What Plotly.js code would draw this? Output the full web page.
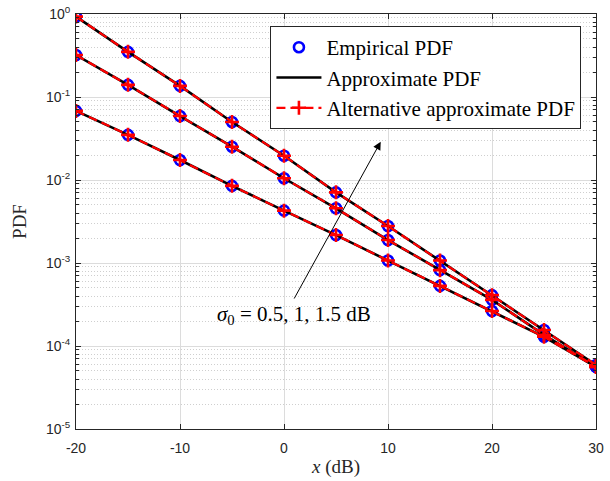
<!DOCTYPE html>
<html>
<head>
<meta charset="utf-8">
<script src="https://cdn.plot.ly/plotly-3.0.1.min.js"></script>
<style>html,body{margin:0;padding:0;background:#fff;}#chart{width:610px;height:481px;}</style>
</head>
<body>
<div id="chart"></div>
<script>
// x values (dB)
const xVals = [-20, -15, -10, -5, 0, 5, 10, 15, 20, 25, 30];
// three curves (sigma_0 = 1.5, 1, 0.5 dB)
const pdfTop    = [0.93, 0.35, 0.136, 0.050, 0.0196, 0.0071, 0.00279, 0.00107, 4.1e-4, 1.56e-4, 5.9e-5];
const pdfMid    = [0.32, 0.14, 0.059, 0.0252, 0.0105, 0.00456, 0.00189, 8.2e-4, 3.6e-4, 1.36e-4, 5.6e-5];
const pdfBottom = [0.068, 0.035, 0.0174, 0.0085, 0.00427, 0.00217, 0.00107, 5.3e-4, 2.64e-4, 1.29e-4, 5.6e-5];
const seriesList = [pdfTop, pdfMid, pdfBottom];
const legendNames = ["Empirical PDF", "Approximate PDF", "Alternative approximate PDF"];
const xTicks = [-20, -10, 0, 10, 20, 30];
const yTickExps = [-5, -4, -3, -2, -1, 0];

const traces = [];
seriesList.forEach((ys, i) => {
  traces.push({
    x: xVals, y: ys, type: 'scatter', mode: 'markers',
    name: legendNames[0], showlegend: i === 0, legendrank: 1,
    marker: {symbol: 'circle-open', size: 10, color: '#0000ff', line: {width: 2.6, color: '#0000ff'}}
  });
});
seriesList.forEach((ys, i) => {
  traces.push({
    x: xVals, y: ys, type: 'scatter', mode: 'lines',
    name: legendNames[1], showlegend: i === 0, legendrank: 2,
    line: {color: '#000000', width: 2.6}
  });
});
seriesList.forEach((ys, i) => {
  traces.push({
    x: xVals, y: ys, type: 'scatter', mode: 'lines+markers',
    name: legendNames[2], showlegend: i === 0, legendrank: 3,
    line: {color: '#ff0000', width: 2.2, dash: '9px,5px'},
    marker: {symbol: 'cross-thin', size: 10, color: '#ff0000', line: {width: 2.6, color: '#ff0000'}}
  });
});

const axisFont = {family: 'Liberation Sans, Arial, sans-serif', size: 14, color: '#262626'};
const serif = 'Liberation Serif, Times New Roman, serif';

const layout = {
  width: 610, height: 481,
  margin: {l: 76, r: 14, t: 14, b: 52},
  paper_bgcolor: '#fff', plot_bgcolor: '#fff',
  showlegend: true,
  legend: {
    x: 0.972, y: 0.971, xanchor: 'right', yanchor: 'top',
    bgcolor: '#fff', bordercolor: '#262626', borderwidth: 1,
    font: {family: serif, size: 21, color: '#000'},
    itemwidth: 45, tracegroupgap: 0
  },
  xaxis: {
    range: [-20, 30], tickvals: xTicks, ticktext: xTicks.map(String),
    ticks: 'inside', ticklen: 5, tickcolor: '#262626',
    showline: true, linecolor: '#262626', linewidth: 1, mirror: 'ticks',
    showgrid: true, gridcolor: '#dcdcdc', gridwidth: 1, zeroline: false,
    tickfont: axisFont, ticklabelstandoff: 6,
    title: {text: '<i>x</i> (dB)', font: {family: serif, size: 19, color: '#262626'}, standoff: 4}
  },
  yaxis: {
    type: 'log', range: [-5, 0],
    tickvals: yTickExps.map(e => Math.pow(10, e)),
    ticktext: yTickExps.map(e => '10<sup>' + e + '</sup>'),
    ticks: 'inside', ticklen: 5, tickcolor: '#262626',
    showline: true, linecolor: '#262626', linewidth: 1, mirror: 'ticks',
    showgrid: true, gridcolor: '#dcdcdc', gridwidth: 1, zeroline: false,
    tickfont: axisFont, ticklabelstandoff: 2,
    minor: {dtick: 'D1', ticks: 'inside', ticklen: 3, tickcolor: '#262626', showgrid: true, gridcolor: '#cfcfcf', griddash: '1px,2px', gridwidth: 1},
    title: {text: 'PDF', font: {family: serif, size: 19, color: '#262626'}, standoff: 14}
  },
  annotations: [
    {
      x: 9.3, y: -1.539, xref: 'x', yref: 'y',
      ax: 0.9, ay: -3.446, axref: 'x', ayref: 'y',
      showarrow: true, arrowhead: 2, arrowsize: 1.6, arrowwidth: 1, arrowcolor: '#000', text: ''
    },
    {
      x: 1.0, y: -3.627, xref: 'x', yref: 'y', showarrow: false,
      text: '<i>σ</i><sub>0</sub> = 0.5, 1, 1.5 dB',
      font: {family: serif, size: 21, color: '#000'}
    }
  ]
};

Plotly.newPlot('chart', traces, layout, {displayModeBar: false, staticPlot: true});
</script>
</body>
</html>
